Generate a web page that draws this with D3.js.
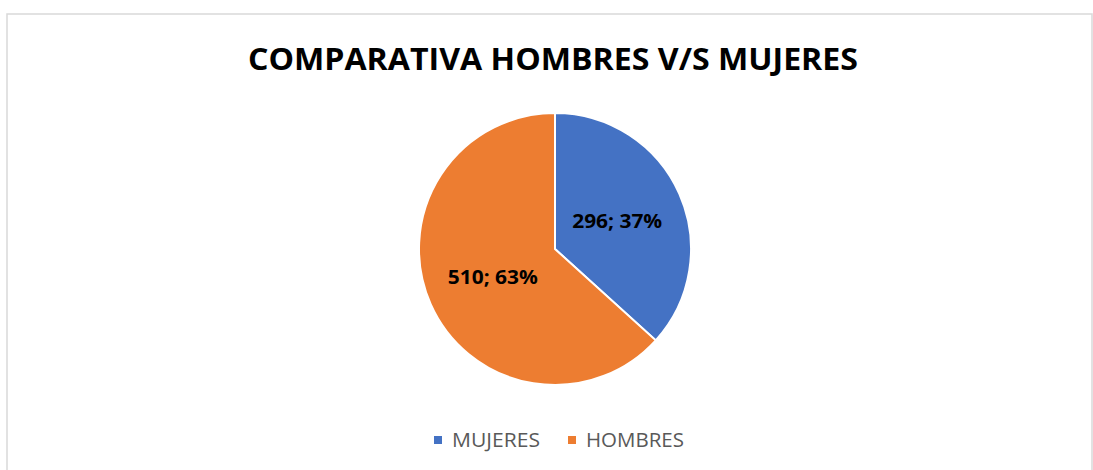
<!DOCTYPE html>
<html>
<head>
<meta charset="utf-8">
<script src="https://cdn.jsdelivr.net/npm/d3@7"></script>
<style>
  body { margin: 0; background: #fff; }
</style>
</head>
<body>
<div id="chart"></div>
<script>
// data
var categories = ["MUJERES", "HOMBRES"];
var values = [296, 510];
var colors = ["#4472c4", "#ed7d31"];

var width = 1093, height = 470;
var cx = 555, cy = 249, radius = 136;

var svg = d3.select("#chart").append("svg")
    .attr("width", width)
    .attr("height", height);

// chart border
svg.append("rect")
    .attr("x", 7).attr("y", 14)
    .attr("width", 1085).attr("height", 470)
    .style("fill", "none")
    .style("stroke", "#d9d9d9")
    .style("stroke-width", 1.5);

// title
svg.append("text")
    .attr("x", 553)
    .attr("y", 70)
    .attr("text-anchor", "middle")
    .attr("textLength", 610)
    .attr("lengthAdjust", "spacingAndGlyphs")
    .style("font-family", "Open Sans")
    .style("font-weight", 700)
    .style("font-size", "31px")
    .style("fill", "#000")
    .text("COMPARATIVA HOMBRES V/S MUJERES");

var data = categories.map(function(c, i) { return {name: c, value: values[i]}; });
var total = d3.sum(values);

var color = d3.scaleOrdinal().domain(categories).range(colors);

var pie = d3.pie().sort(null).value(function(d) { return d.value; });
var arc = d3.arc().innerRadius(0).outerRadius(radius);
var labelArc = d3.arc().innerRadius(radius * 0.5).outerRadius(radius * 0.5);

var g = svg.append("g").attr("transform", "translate(" + cx + "," + cy + ")");

var slices = g.selectAll(".slice")
    .data(pie(data))
    .enter().append("g")
    .attr("class", "slice");

slices.append("path")
    .attr("d", arc)
    .style("fill", function(d) { return color(d.data.name); })
    .style("stroke", "#fff")
    .style("stroke-width", 2);

slices.append("text")
    .attr("transform", function(d) { return "translate(" + labelArc.centroid(d) + ")"; })
    .attr("text-anchor", "middle")
    .attr("dy", "0.35em")
    .attr("textLength", 90)
    .attr("lengthAdjust", "spacingAndGlyphs")
    .style("font-family", "Open Sans")
    .style("font-weight", 700)
    .style("font-size", "20px")
    .style("fill", "#000")
    .text(function(d) { return d.data.value + "; " + Math.round(d.data.value / total * 100) + "%"; });

// legend
var legendX = [434, 568];
var legendW = [88, 98];
var legend = svg.selectAll(".legend")
    .data(categories)
    .enter().append("g")
    .attr("class", "legend")
    .attr("transform", function(d, i) { return "translate(" + legendX[i] + ",436)"; });

legend.append("rect")
    .attr("width", 8).attr("height", 8)
    .style("fill", color);

legend.append("text")
    .attr("x", 18)
    .attr("y", 11)
    .attr("textLength", function(d, i) { return legendW[i]; })
    .attr("lengthAdjust", "spacingAndGlyphs")
    .style("font-family", "Open Sans")
    .style("font-size", "20px")
    .style("fill", "#595959")
    .text(function(d) { return d; });
</script>
</body>
</html>
